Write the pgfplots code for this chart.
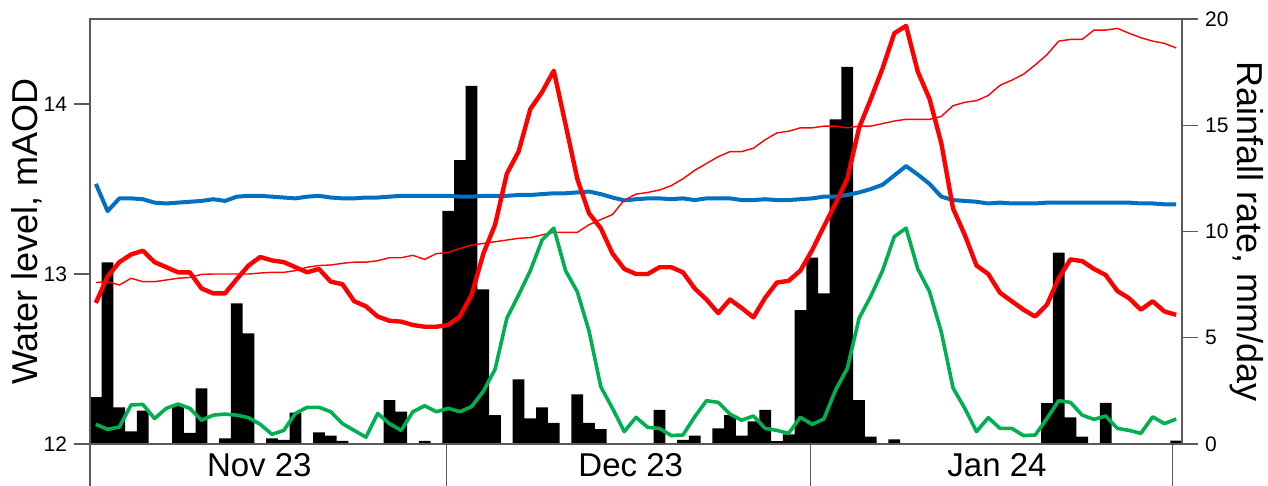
\documentclass[border=0pt]{standalone}
\usepackage{pgfplots}
\pgfplotsset{compat=1.18}
\usepackage{fontspec}
\setmainfont{Liberation Sans}
\definecolor{wblue}{RGB}{0,112,192}
\definecolor{wgreen}{RGB}{0,176,80}
\definecolor{axgray}{RGB}{90,90,90}
\begin{document}
\begin{tikzpicture}
\pgfplotsset{
  base/.style={
    width=546pt, height=212.5pt, scale only axis,
    xmin=0, xmax=93,
    axis line style={axgray, line width=0.6pt},
    tick style={axgray, line width=0.6pt},
    major tick length=8pt,
    tick align=outside,
    /pgf/number format/assume math mode=true,
    ticklabel style={font=\fontsize{10.5}{12}\selectfont},
    clip=false,
  }
}
% rainfall bars (right axis)
\begin{axis}[base,
  ymin=0, ymax=20,
  axis y line*=right, axis x line=none,
  ytick={0,5,10,15,20},
  ylabel={Rainfall rate, mm/day},
  ylabel style={font=\fontsize{18}{20}\selectfont, at={(axis description cs:1.0595,0.5)}, anchor=center, rotate=180},
]
\addplot[ybar, bar width=1, bar shift=0pt, fill=black, draw=none] coordinates {
(0.5,2.2) (1.5,8.55) (2.5,1.72) (3.5,0.6) (4.5,1.57)
(7.5,1.78) (8.5,0.52) (9.5,2.62) (11.5,0.27) (12.5,6.62) (13.5,5.2)
(15.5,0.27) (16.5,0.19) (17.5,1.48) (19.5,0.55) (20.5,0.39) (21.5,0.15)
(25.5,2.07) (26.5,1.52) (28.5,0.15)
(30.5,10.97) (31.5,13.36) (32.5,16.85) (33.5,7.28) (34.5,1.36)
(36.5,3.04) (37.5,1.2) (38.5,1.72) (39.5,1.0) (41.5,2.34) (42.5,1.0) (43.5,0.7)
(48.5,1.6) (50.5,0.2) (51.5,0.4) (53.5,0.74) (54.5,1.36) (55.5,0.4) (56.5,1.06) (57.5,1.6) (58.5,0.13) (59.5,0.45)
(60.5,6.3) (61.5,8.77) (62.5,7.09) (63.5,15.28) (64.5,17.75) (65.5,2.07) (66.5,0.35) (68.5,0.22)
(81.5,1.92) (82.5,9.0) (83.5,1.25) (84.5,0.35) (86.5,1.94) (92.5,0.16)
};
\end{axis}
% water levels (left axis)
\begin{axis}[base,
  ymin=12, ymax=14.5,
  ytick={12,13,14},
  ytick pos=left,
  xtick=\empty,
  ylabel={Water level, mAOD},
  ylabel style={font=\fontsize{18}{20}\selectfont, at={(axis description cs:-0.0577,0.5)}, anchor=center},
]
\addplot[wblue, line width=2pt, line join=round] table {
x y
0.5 13.53
1.5 13.37
2.5 13.445
3.5 13.445
4.5 13.44
5.5 13.42
6.5 13.415
7.5 13.42
8.5 13.425
9.5 13.43
10.5 13.44
11.5 13.43
12.5 13.455
13.5 13.46
14.5 13.46
15.5 13.455
16.5 13.45
17.5 13.445
18.5 13.455
19.5 13.46
20.5 13.45
21.5 13.445
22.5 13.445
23.5 13.45
24.5 13.45
25.5 13.455
26.5 13.46
27.5 13.46
28.5 13.46
29.5 13.46
30.5 13.46
31.5 13.455
32.5 13.455
33.5 13.46
34.5 13.46
35.5 13.46
36.5 13.465
37.5 13.465
38.5 13.47
39.5 13.475
40.5 13.475
41.5 13.48
42.5 13.485
43.5 13.47
44.5 13.45
45.5 13.433
46.5 13.44
47.5 13.445
48.5 13.445
49.5 13.44
50.5 13.445
51.5 13.435
52.5 13.445
53.5 13.445
54.5 13.445
55.5 13.435
56.5 13.435
57.5 13.44
58.5 13.435
59.5 13.435
60.5 13.44
61.5 13.445
62.5 13.455
63.5 13.455
64.5 13.465
65.5 13.48
66.5 13.5
67.5 13.525
68.5 13.58
69.5 13.635
70.5 13.585
71.5 13.53
72.5 13.455
73.5 13.435
74.5 13.43
75.5 13.425
76.5 13.415
77.5 13.42
78.5 13.415
79.5 13.415
80.5 13.415
81.5 13.42
82.5 13.42
83.5 13.42
84.5 13.42
85.5 13.42
86.5 13.42
87.5 13.42
88.5 13.42
89.5 13.415
90.5 13.415
91.5 13.41
92.5 13.41
};
\addplot[red, line width=0.7pt, line join=round] table {
x y
0.5 12.95
1.5 12.955
2.5 12.935
3.5 12.975
4.5 12.955
5.5 12.955
6.5 12.965
7.5 12.975
8.5 12.98
9.5 12.998
10.5 13.0
11.5 13.0
12.5 13.0
13.5 13.0
14.5 13.006
15.5 13.01
16.5 13.01
17.5 13.02
18.5 13.04
19.5 13.05
20.5 13.053
21.5 13.063
22.5 13.07
23.5 13.07
24.5 13.078
25.5 13.096
26.5 13.096
27.5 13.11
28.5 13.086
29.5 13.12
30.5 13.127
31.5 13.15
32.5 13.17
33.5 13.18
34.5 13.19
35.5 13.2
36.5 13.21
37.5 13.214
38.5 13.23
39.5 13.245
40.5 13.245
41.5 13.245
42.5 13.29
43.5 13.32
44.5 13.35
45.5 13.435
46.5 13.47
47.5 13.48
48.5 13.494
49.5 13.52
50.5 13.56
51.5 13.61
52.5 13.65
53.5 13.69
54.5 13.72
55.5 13.72
56.5 13.74
57.5 13.79
58.5 13.83
59.5 13.84
60.5 13.86
61.5 13.86
62.5 13.87
63.5 13.87
64.5 13.86
65.5 13.87
66.5 13.87
67.5 13.885
68.5 13.9
69.5 13.91
70.5 13.91
71.5 13.91
72.5 13.927
73.5 13.99
74.5 14.01
75.5 14.02
76.5 14.05
77.5 14.11
78.5 14.14
79.5 14.175
80.5 14.23
81.5 14.29
82.5 14.37
83.5 14.38
84.5 14.38
85.5 14.435
86.5 14.435
87.5 14.445
88.5 14.416
89.5 14.39
90.5 14.37
91.5 14.357
92.5 14.33
};
\addplot[red, line width=2.2pt, line join=round] table {
x y
0.5 12.83
1.5 12.985
2.5 13.07
3.5 13.115
4.5 13.137
5.5 13.07
6.5 13.04
7.5 13.01
8.5 13.01
9.5 12.915
10.5 12.886
11.5 12.886
12.5 12.97
13.5 13.05
14.5 13.10
15.5 13.08
16.5 13.07
17.5 13.04
18.5 13.01
19.5 13.03
20.5 12.955
21.5 12.94
22.5 12.84
23.5 12.81
24.5 12.75
25.5 12.725
26.5 12.72
27.5 12.70
28.5 12.69
29.5 12.69
30.5 12.70
31.5 12.75
32.5 12.876
33.5 13.12
34.5 13.29
35.5 13.59
36.5 13.72
37.5 13.97
38.5 14.07
39.5 14.196
40.5 13.88
41.5 13.56
42.5 13.357
43.5 13.27
44.5 13.12
45.5 13.03
46.5 13.0
47.5 13.0
48.5 13.04
49.5 13.04
50.5 13.01
51.5 12.915
52.5 12.85
53.5 12.77
54.5 12.85
55.5 12.8
56.5 12.745
57.5 12.86
58.5 12.95
59.5 12.96
60.5 13.02
61.5 13.14
62.5 13.28
63.5 13.415
64.5 13.56
65.5 13.86
66.5 14.03
67.5 14.21
68.5 14.416
69.5 14.46
70.5 14.19
71.5 14.03
72.5 13.77
73.5 13.386
74.5 13.23
75.5 13.05
76.5 13.0
77.5 12.89
78.5 12.84
79.5 12.79
80.5 12.75
81.5 12.82
82.5 12.975
83.5 13.086
84.5 13.076
85.5 13.03
86.5 12.994
87.5 12.9
88.5 12.857
89.5 12.79
90.5 12.84
91.5 12.78
92.5 12.76
};
\addplot[wgreen, line width=1.8pt, line join=round] table {
x y
0.5 12.116
1.5 12.086
2.5 12.10
3.5 12.23
4.5 12.233
5.5 12.15
6.5 12.21
7.5 12.235
8.5 12.21
9.5 12.14
10.5 12.17
11.5 12.176
12.5 12.17
13.5 12.155
14.5 12.116
15.5 12.057
16.5 12.08
17.5 12.18
18.5 12.216
19.5 12.216
20.5 12.19
21.5 12.12
22.5 12.08
23.5 12.04
24.5 12.18
25.5 12.12
26.5 12.08
27.5 12.19
28.5 12.225
29.5 12.19
30.5 12.21
31.5 12.19
32.5 12.22
33.5 12.31
34.5 12.44
35.5 12.74
36.5 12.876
37.5 13.02
38.5 13.2
39.5 13.27
40.5 13.02
41.5 12.896
42.5 12.665
43.5 12.337
44.5 12.21
45.5 12.073
46.5 12.157
47.5 12.098
48.5 12.092
49.5 12.05
50.5 12.053
51.5 12.16
52.5 12.255
53.5 12.245
54.5 12.176
55.5 12.14
56.5 12.165
57.5 12.092
58.5 12.08
59.5 12.063
60.5 12.157
61.5 12.116
62.5 12.147
63.5 12.318
64.5 12.445
65.5 12.74
66.5 12.87
67.5 13.02
68.5 13.22
69.5 13.27
70.5 13.03
71.5 12.896
72.5 12.66
73.5 12.33
74.5 12.21
75.5 12.073
76.5 12.155
77.5 12.092
78.5 12.092
79.5 12.05
80.5 12.053
81.5 12.15
82.5 12.255
83.5 12.245
84.5 12.17
85.5 12.145
86.5 12.165
87.5 12.092
88.5 12.08
89.5 12.063
90.5 12.16
91.5 12.12
92.5 12.147
};
% month separators and labels
\draw[axgray, line width=0.6pt] (axis cs:0,12) -- ++(0,-20.5pt);
\draw[axgray, line width=0.6pt] (axis cs:30.35,12) -- ++(0,-20.5pt);
\draw[axgray, line width=0.6pt] (axis cs:61.35,12) -- ++(0,-20.5pt);
\draw[axgray, line width=0.6pt] (axis cs:92.2,12) -- ++(0,-20.5pt);
\node[anchor=base, font=\fontsize{16.5}{18}\selectfont, yshift=-16.4pt] at (axis cs:14.42,12) {Nov 23};
\node[anchor=base, font=\fontsize{16.5}{18}\selectfont, yshift=-16.4pt] at (axis cs:46.05,12) {Dec 23};
\node[anchor=base, font=\fontsize{16.5}{18}\selectfont, yshift=-16.4pt] at (axis cs:77.24,12) {Jan 24};
\coordinate (bl) at (rel axis cs:0,0);
\coordinate (tr) at (rel axis cs:1,1);
\end{axis}
\pgfresetboundingbox
\path (bl) ++(-45pt,-20.5pt) rectangle ([shift={(43pt,9.5pt)}]tr);
\end{tikzpicture}
\end{document}
